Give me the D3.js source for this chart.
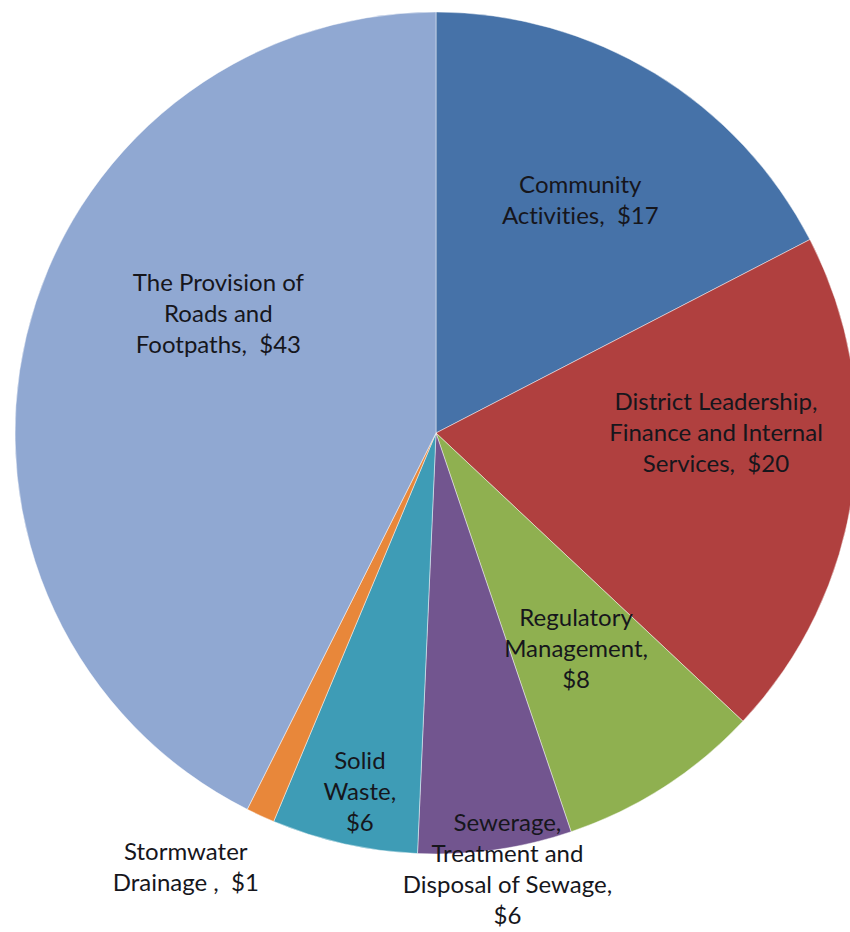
<!DOCTYPE html>
<html>
<head>
<meta charset="utf-8">
<script src="https://cdn.jsdelivr.net/npm/d3@7"></script>
<style>
  html, body { margin: 0; padding: 0; background: #ffffff; }
  svg { display: block; }
  .lbl { font-family: Lato, "Open Sans", sans-serif; font-size: 24px; fill: #16161c; white-space: pre; font-variant-ligatures: none; }
</style>
</head>
<body>
<svg id="chart" width="850" height="932"></svg>
<script>
// Spending per $100 of rates, by activity group
const categories = [
  "Community Activities",
  "District Leadership, Finance and Internal Services",
  "Regulatory Management",
  "Sewerage, Treatment and Disposal of Sewage",
  "Solid Waste",
  "Stormwater Drainage ",
  "The Provision of Roads and Footpaths"
];
const values = [17.4, 19.6, 7.8, 5.9, 5.6, 1.1, 42.6];
const colors = ["#4672A8", "#B0403F", "#8FB050", "#72558F", "#3E9CB6", "#E8873A", "#90A8D2"];

// Label text broken into lines; {v} is replaced by the formatted value
const labelLines = [
  ["Community", "Activities,  {v}"],
  ["District Leadership,", "Finance and Internal", "Services,  {v}"],
  ["Regulatory", "Management,", "{v}"],
  ["Sewerage,", "Treatment and", "Disposal of Sewage,", "{v}"],
  ["Solid", "Waste,", "{v}"],
  ["Stormwater", "Drainage ,  {v}"],
  ["The Provision of", "Roads and", "Footpaths,  {v}"]
];

// Label placement: polar position relative to the slice middle
// (angle shift in degrees, distance as a fraction of the radius)
const labelPlace = [
  { shift: 0.5, dist: 0.65 },
  { shift: -8.1, dist: 0.665 },
  { shift: -0.3, dist: 0.61 },
  { shift: -1.2, dist: 1.05 },
  { shift: -0.6, dist: 0.87 },
  { shift: 5.3, dist: 1.19 },
  { shift: 15.5, dist: 0.59 }
];

const svg = d3.select("#chart");
const cx = 436, cy = 433, radius = 421;
const lineH = 31;
const fmt = d3.format("$.0f");

const data = categories.map((c, i) => ({ name: c, value: values[i], color: colors[i], i }));

const pie = d3.pie().sort(null).value(d => d.value);
const arc = d3.arc().innerRadius(0).outerRadius(radius);
const arcs = pie(data);

const g = svg.append("g").attr("transform", `translate(${cx},${cy})`);

g.selectAll("path.slice")
  .data(arcs)
  .join("path")
  .attr("class", "slice")
  .attr("d", arc)
  .attr("fill", d => d.data.color)
  .attr("stroke", "rgba(255,255,255,0.45)")
  .attr("stroke-width", 1);

const labels = g.selectAll("text.lbl")
  .data(arcs)
  .join("text")
  .attr("class", "lbl")
  .attr("text-anchor", "middle")
  .attr("transform", d => {
    const p = labelPlace[d.data.i];
    const a = (d.startAngle + d.endAngle) / 2 + p.shift * Math.PI / 180;
    const r = p.dist * radius;
    return `translate(${Math.sin(a) * r},${-Math.cos(a) * r})`;
  });

labels.each(function(d) {
  const lines = labelLines[d.data.i].map(s => s.replace("{v}", fmt(d.data.value)));
  const t = d3.select(this);
  const top = -(lines.length - 1) * lineH / 2;
  lines.forEach((s, k) => {
    t.append("tspan")
      .attr("x", 0)
      .attr("y", top + k * lineH)
      .attr("dy", "0.35em")
      .text(s);
  });
});
</script>
</body>
</html>
